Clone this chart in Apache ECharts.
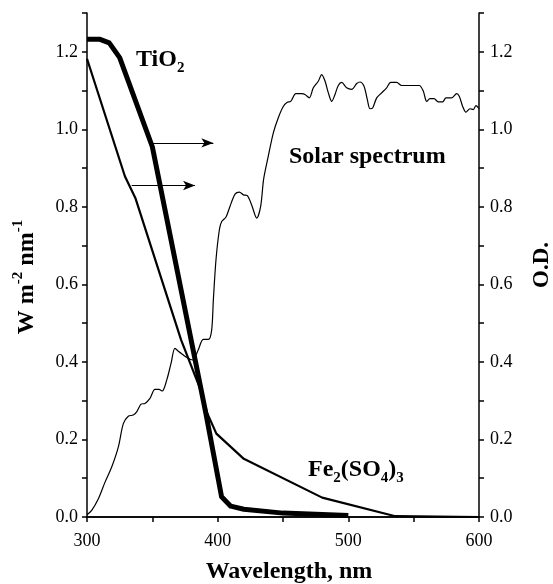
<!DOCTYPE html>
<html>
<head>
<meta charset="utf-8">
<script src="https://cdn.jsdelivr.net/npm/echarts@6/dist/echarts.min.js"></script>
<style>html,body{margin:0;padding:0;background:#fff}#c{width:553px;height:584px}</style>
</head>
<body>
<div id="c"></div>
<script>
// ---- data ----
var solarNm = [300,303.6,308.7,313.8,318.9,324,327.8,331.6,335.4,338,341.3,344.4,348.2,352,355.1,357.6,361,364.3,367.3,370.4,373.7,377,381,385,389,392.9,395.4,396.7,398.7,401.3,403.1,406.4,409.4,413.3,416.6,419.7,422.7,426,429.9,432.9,435.2,438.7,442.6,446.4,450.2,453.3,455.9,459.9,464.3,466.8,470.1,473.2,477,479.6,482.2,484.7,487.3,489.8,492.3,494.9,498.7,502.6,506.4,508.9,512,514.5,516.6,518.6,521.7,525.5,529.3,532.4,537,540.8,547.2,554.3,557.4,560,562.5,565.6,568.8,572.2,574.7,579.1,582.9,584.9,587.5,590,593.1,595.6,597.7,600];
var solarVal = [0.006,0.017,0.047,0.09,0.129,0.181,0.241,0.26,0.263,0.271,0.291,0.293,0.306,0.329,0.329,0.325,0.353,0.396,0.435,0.426,0.418,0.41,0.405,0.43,0.458,0.458,0.482,0.56,0.663,0.741,0.762,0.774,0.801,0.833,0.838,0.831,0.829,0.805,0.771,0.801,0.872,0.93,0.991,1.03,1.059,1.07,1.072,1.092,1.092,1.09,1.081,1.107,1.124,1.141,1.124,1.094,1.072,1.09,1.113,1.121,1.107,1.103,1.118,1.122,1.111,1.077,1.053,1.055,1.081,1.094,1.107,1.121,1.121,1.113,1.113,1.113,1.098,1.072,1.079,1.079,1.071,1.071,1.081,1.081,1.092,1.085,1.059,1.044,1.053,1.051,1.061,1.053];
var tio2Nm  = [300,310,317,325,350,391,403,410,420,450,500];
var tio2Val = [1.232,1.232,1.223,1.185,0.955,0.267,0.052,0.028,0.02,0.01,0.004];
var feNm  = [300,329,337,372,387,392,399,420,480,536,600];
var feVal = [1.182,0.879,0.823,0.457,0.327,0.268,0.215,0.15,0.05,0.002,0];
var arrowTio2 = [[350,0.965],[396.7,0.965]];
var arrowFe   = [[334.2,0.855],[382.7,0.855]];
var xTickLabels = ['300','400','500','600'];
var yTickLabels = ['0.0','0.2','0.4','0.6','0.8','1.0','1.2'];
var xName = 'Wavelength, nm';
var yLeftName = '{m|W m}{p|-2}{m| nm}{p|-1}';
var yRightName = 'O.D.';
var labelTio2 = '{m|TiO}{s|2}';
var labelSolar = 'Solar spectrum';
var labelFe = '{m|Fe}{s|2}{m|(SO}{s|4}{m|)}{s|3}';

function zip(a,b){return a.map(function(v,i){return [v,b[i]];});}

var FF = 'Liberation Serif';
var chart = echarts.init(document.getElementById('c'));
var lineStyle = {color:'#000', width:1.5};
function xFmt(v){var s=String(Math.round(v)); return xTickLabels.indexOf(s)>=0?s:'';}
function yFmt(v){var s=(Math.round(v*10)/10).toFixed(1); return yTickLabels.indexOf(s)>=0?s:'';}
var richMain = {fontSize:24,fontWeight:'bold',fontFamily:FF,color:'#000',fill:'#000',lineHeight:32,verticalAlign:'middle'};
var richSub = {fontSize:15,fontWeight:'bold',fontFamily:FF,color:'#000',fill:'#000',lineHeight:32,verticalAlign:'bottom'};
var richSup = {fontSize:15,fontWeight:'bold',fontFamily:FF,color:'#000',fill:'#000',lineHeight:32,verticalAlign:'top'};

chart.setOption({
  animation:false,
  backgroundColor:'#fff',
  grid:{left:87,right:74,top:13,bottom:67,containLabel:false,outerBoundsMode:'none'},
  xAxis:[{
    type:'value',min:300,max:600,interval:50,position:'bottom',
    name:xName,nameLocation:'middle',nameGap:43,
    nameTextStyle:{fontFamily:FF,fontSize:24,fontWeight:'bold',color:'#000',padding:[0,0,0,12]},
    axisLine:{show:true,lineStyle:lineStyle},
    axisTick:{show:true,inside:false,length:5,lineStyle:lineStyle},
    axisLabel:{formatter:xFmt,margin:15,color:'#000',fontFamily:FF,fontSize:18},
    splitLine:{show:false}
  },{
    type:'value',min:300,max:600,interval:50,position:'top',
    axisLine:{show:true,lineStyle:lineStyle},
    axisTick:{show:true,inside:true,length:5,lineStyle:lineStyle},
    axisLabel:{show:false},splitLine:{show:false}
  }],
  yAxis:[{
    type:'value',min:0,max:1.3,interval:0.1,position:'left',
    name:yLeftName,nameLocation:'middle',nameGap:44,nameRotate:90,
    nameTextStyle:{rich:{m:richMain,p:richSup},padding:[0,24,0,0]},
    axisLine:{show:true,lineStyle:lineStyle},
    axisTick:{show:true,inside:false,length:5,lineStyle:lineStyle},
    axisLabel:{formatter:yFmt,margin:9,color:'#000',fontFamily:FF,fontSize:18},
    splitLine:{show:false}
  },{
    type:'value',min:0,max:1.3,interval:0.1,position:'right',
    name:yRightName,nameLocation:'middle',nameGap:52,nameRotate:90,
    nameTextStyle:{fontFamily:FF,fontSize:23,fontWeight:'bold',color:'#000'},
    axisLine:{show:true,lineStyle:lineStyle},
    axisTick:{show:true,inside:false,length:5,lineStyle:lineStyle},
    axisLabel:{formatter:yFmt,margin:11,color:'#000',fontFamily:FF,fontSize:18},
    splitLine:{show:false}
  }],
  series:[{
    name:'Solar spectrum',type:'line',xAxisIndex:0,yAxisIndex:0,
    data:zip(solarNm,solarVal),showSymbol:false,smooth:0.3,
    lineStyle:{color:'#000',width:1.2}
  },{
    name:'TiO2',type:'line',xAxisIndex:0,yAxisIndex:1,
    data:zip(tio2Nm,tio2Val),showSymbol:false,
    lineStyle:{color:'#000',width:5,join:'round'},
    markLine:{silent:true,symbol:['none','arrow'],symbolSize:[7,12],
      lineStyle:{color:'#000',width:1.2,type:'solid'},label:{show:false},
      data:[[{coord:arrowTio2[0]},{coord:arrowTio2[1]}],[{coord:arrowFe[0]},{coord:arrowFe[1]}]]}
  },{
    name:'Fe2(SO4)3',type:'line',xAxisIndex:0,yAxisIndex:1,
    data:zip(feNm,feVal),showSymbol:false,
    lineStyle:{color:'#000',width:2.2}
  }],
  graphic:[
    {type:'text',left:136,top:48,style:{text:labelTio2,rich:{m:richMain,s:richSub},fill:'#000'}},
    {type:'text',left:289,top:145,style:{text:labelSolar,font:'bold 24px "Liberation Serif"',fill:'#000'}},
    {type:'text',left:308,top:458,style:{text:labelFe,rich:{m:richMain,s:richSub},fill:'#000'}}
  ]
});
</script>
</body>
</html>
